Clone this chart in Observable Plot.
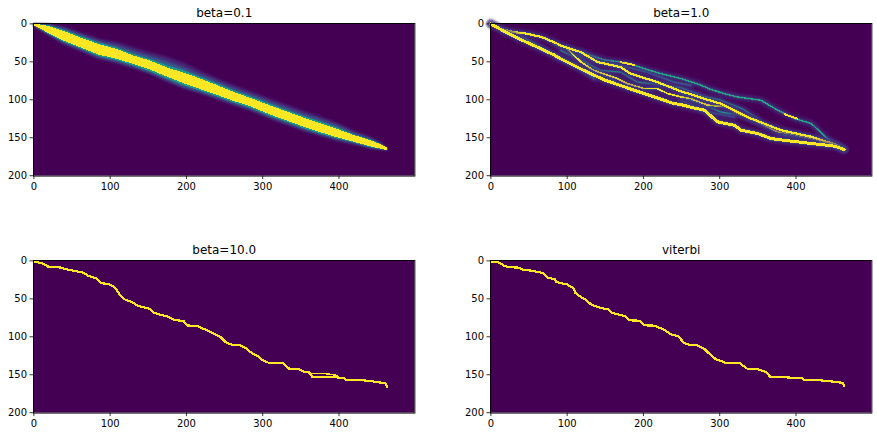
<!DOCTYPE html>
<html><head><meta charset="utf-8">
<script src="https://cdn.jsdelivr.net/npm/d3@7"></script>
<script src="https://cdn.jsdelivr.net/npm/@observablehq/plot@0.6"></script>
<style>
html,body{margin:0;padding:0;background:#fff;width:877px;height:437px;overflow:hidden}
#c{position:relative;width:877px;height:437px}
#c svg{position:absolute;background:transparent;overflow:visible}
</style></head><body><div id="c"></div>
<script>
const titles = ["beta=0.1","beta=1.0","beta=10.0","viterbi"];
const xTicks = [0,100,200,300,400];
const yTicks = [0,50,100,150,200];

// beta=0.1 band edges
const bandX   = [0,20,40,60,85,110,130,153,175,197,220,240,262,284,310,335,354,375,398,420,442,455,464];
const yelTop  = [0,3.5,10,18,27,34,42,49,58,65,73,81,90,98,108,117,124,131,139,147,154,159,164];
const yelBot  = [2,13,23,31,41,47,53,61,70,79,87,94,102,109,120,129,136,143,150,156,162,165,167];
const tealTop = [0,2.5,8.5,16,25,32,40,47,55,62,71,79,88,96,106,115,122,129,137,146,153,158.5,164];
const tealBot = [2.5,14,24.5,32.5,43,49,55,63.5,72.5,81.5,89,96,104,111,122,131,138,145,151.5,157,163,165.5,167];
const midTop  = [0,1.5,6.5,14,23,29,36,43,50,58,68,76,85,93,103,112,119,126,134,144,152,158,164];
const midBot  = [3,15,26,34,45,51,57,65.5,75,84,91,98,106,113,124,133,140,146.5,153,158,164,166,167];
const fadeTop = [0,0.5,4,11,20,25,31,38,44,52,63,72,81,89,99,108,115,122,131,141,149,156.5,164];
const fadeBot = [4,16,28,36,47,53,59,67,77,86,93,100,108,115,126,135,142,148,155,160,165,166.5,167];

// beta=1.0 strands
const lowX = [0,17,39,61,83,91.5,122,148,188,214,240,249,266,280,297,319,328,350,367,393,420,450,463];
const lowY = [0,9.6,20.6,30.6,41,46,61.3,73.5,87.5,96.2,105,106.3,110.7,113.7,129,133.5,140,144.4,151,154.4,157.5,161,165.4];
const s2X = [0,13,30,48,67,87,91.5,118,140,170,183,218,240,249,266,282,301,319,341,358,380,420,454,463];
const s2Y = [0,6.6,10.9,13,17.5,26,28.5,37.2,50.3,56.9,65.6,76.6,85.3,88.8,94,99.3,105,113.7,124.7,131.2,140,148.7,159.7,165.4];
const s1X = [118,148,179,201,223,249,271,288,306,323,354,376,398,420,441,463];
const s1Y = [37.2,47.3,51.6,59,65.6,72,79,86.2,91.9,96.2,100.6,113.7,124.7,131.2,151,165.4];
const dX = [100,118,135,166,179,201,218,232,249,262,284,310,323,341,358,376,398,420,454,463];
const dY = [33,50,61.3,72.2,78.8,85.3,85.3,91.9,96,98.5,107,109.4,118,124.7,133.5,142,145.7,151,160,165.4];
const eX = [91.5,118,144,170,192,210,249,280,300,330,350];
const eY = [35,48,61.3,63.5,76.6,78.8,84,96,100,112,125];
const fX = [249,275,301.5,328,345];
const fY = [96.2,105,116,120.3,127];
const gX = [345,358,384.5,420,441,463];
const gY = [127,133.5,146.6,151,153,165.4];
const hX = [39,83,113,135];
const hY = [15,41.6,54.7,72];
const faint1X = [249,293,323];
const faint1Y = [91.8,105,113.7];
const faint2X = [249,284,319];
const faint2Y = [100.6,116,122.5];
const faint3X = [100,135,170,205,240,262];
const faint3Y = [33,48,54.7,63.5,76.6,81];
const faint4X = [83,118,135,162];
const faint4Y = [26,44,61,74];
const dashAX = [170,188];
const dashAY = [50.5,54];
const dashBX = [385,402];
const dashBY = [119,125];

// beta=10.0 path
const b10X = [0,8.7,14,18,35,42,52.5,65.6,72,83,87.5,100.6,107,111.5,119,129,135.6,151,158,177,184,196,201.5,214.6,227.7,236.5,245,252,260,270,278,287,293,300,308,326,335,348,354,361,365,394,407,409,429,448,461,463];
const b10Y = [1,2.6,4.4,7.4,8.7,10.9,13,15.7,20,23.6,28.9,31.5,36,43,50.7,54.2,59,63,68.7,73.9,78,79,85,86,91.8,96,100.6,107.6,110.3,111,115,122.5,125,130.8,134.3,134.3,142.2,142.6,146.1,146.6,152.7,153.1,154.9,157,157,159.2,161.4,165.8];
const b10BranchX = [361,381,396,401,407];
const b10BranchY = [148.3,148.3,150.5,154,154.9];

// viterbi path
const vitX = [0,10.5,18,23.6,34.6,43.3,54.3,67.4,75,83.7,86,100,108,111,118,124.3,130.9,139.6,154.9,159,176.8,182,195.5,200.8,213.9,226,235.8,245.4,253.3,259.9,270,279.5,286,294.9,308,325.5,336.4,348.7,360.5,366.2,382.3,408.6,410.8,428.3,450,461,463.3];
const vitY = [1,2.2,6.6,8.3,8.8,11.8,13.1,15.7,22.3,24,28,31,36,42.5,47.7,51.2,57,60.8,64.3,68.7,73,78.3,78.8,84.9,85.3,90,96.7,99.3,108,110.3,111.1,115.5,122,129.5,134.3,134.3,142.2,142.6,146.1,152.7,153.1,154.9,157,157,159.2,160.6,165];

const bg = [{x1:-0.5,x2:499.5,y1:-0.5,y2:200.5,v:0}];
const pts = (xs,ys,v,id)=>xs.map((x,i)=>({x,y:ys[i],v,id}));
const band = (xs,a,b,v,id)=>xs.map((x,i)=>({x,a:a[i],b:b[i],v,id}));

function strand(xs,ys,v,w,halo){
  const out=[];
  if(halo){
    out.push(Plot.line(pts(xs,ys,0.14,"h1"),{x:"x",y:"y",z:"id",stroke:"v",strokeWidth:w+6,strokeOpacity:.6,imageFilter:"blur(1.2px)"}));
    out.push(Plot.line(pts(xs,ys,0.35,"h2"),{x:"x",y:"y",z:"id",stroke:"v",strokeWidth:w+1.4,strokeOpacity:.55}));
  }
  out.push(Plot.line(pts(xs,ys,v,"s"),{x:"x",y:"y",z:"id",stroke:"v",strokeWidth:w,shapeRendering:"crispEdges"}));
  return out;
}
const area = (a,b,v,id,blur)=>Plot.area(band(bandX,a,b,v,id),{x1:"x",y1:"a",y2:"b",fill:"v",z:"id",imageFilter:`blur(${blur}px)`});

const marks = [
  [
    area(fadeTop,fadeBot,0.1,"f",1),
    area(midTop,midBot,0.28,"m",0.8),
    area(tealTop,tealBot,0.55,"t",0.5),
    Plot.area(band(bandX,yelTop,yelBot,1,"y"),{x1:"x",y1:"a",y2:"b",fill:"v",z:"id",shapeRendering:"crispEdges"})
  ],
  [
    ...strand(faint1X,faint1Y,0.3,1,true),
    ...strand(faint2X,faint2Y,0.3,1,true),
    ...strand(faint3X,faint3Y,0.35,1,true),
    ...strand(faint4X,faint4Y,0.35,1,true),
    ...strand(hX,hY,0.5,1,true),
    ...strand(eX,eY,0.5,1,true),
    ...strand(fX,fY,0.55,1,true),
    ...strand(gX,gY,0.6,1,true),
    ...strand(s1X,s1Y,0.6,1.3,true),
    ...strand(dashAX,dashAY,1,2,false),
    ...strand(dashBX,dashBY,1,2,false),
    ...strand(dX,dY,1,1.6,true),
    ...strand(s2X,s2Y,1,2.2,true),
    ...strand(lowX,lowY,1,3,true)
  ],
  [
    ...strand(b10BranchX,b10BranchY,1,1.6,false),
    ...strand(b10X,b10Y,1,2.2,false)
  ],
  [
    ...strand(vitX,vitY,1,2.2,false)
  ]
];

const boxes = [[33.3,23.3],[490.3,23.3],[33.3,260.3],[490.3,260.3]];
const pw = 381.4, ph = 152.6, ml = 40, mt = 24, mb = 24, mr = 6;
const root = document.getElementById("c");
titles.forEach((t,i)=>{
  const p = Plot.plot({
    width: pw+ml+mr, height: ph+mt+mb,
    marginLeft: ml, marginRight: mr, marginTop: mt, marginBottom: mb,
    style:{fontFamily:"DejaVu Sans",fontSize:"10px",color:"#000",background:"transparent",overflow:"visible"},
    x:{domain:[-0.5,499.5]},
    y:{domain:[200.5,-0.5]},
    color:{type:"linear",scheme:"viridis",domain:[0,1]},
    marks:[
      Plot.rect(bg,{x1:"x1",x2:"x2",y1:"y1",y2:"y2",fill:"v"}),
      ...marks[i],
      Plot.frame({stroke:"#000",strokeWidth:0.9}),
      Plot.axisX({ticks:xTicks,tickSize:3.5,tickPadding:3,label:null,stroke:"#000",fill:"#000",strokeWidth:.8}),
      Plot.axisY({ticks:yTicks,tickSize:3.5,tickPadding:3,label:null,stroke:"#000",fill:"#000",strokeWidth:.8}),
      Plot.text([t],{text:d=>d,frameAnchor:"top",dy:-15,fontSize:12,fill:"#000"})
    ]
  });
  p.style.left = (boxes[i][0]-ml)+"px";
  p.style.top = (boxes[i][1]-mt)+"px";
  root.appendChild(p);
});
</script></body></html>
